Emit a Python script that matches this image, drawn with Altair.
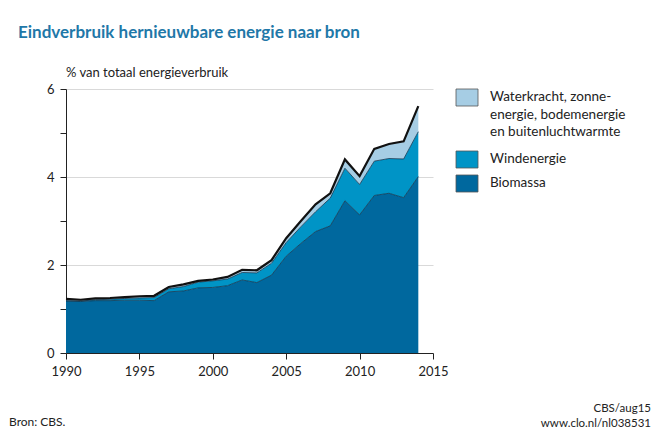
import altair as alt
import pandas as pd

years = list(range(1990, 2015))
biomassa = [1.18, 1.17, 1.19, 1.19, 1.20, 1.20, 1.19, 1.39, 1.41, 1.48, 1.49, 1.53, 1.66, 1.60,
            1.77, 2.20, 2.49, 2.76, 2.89, 3.46, 3.14, 3.58, 3.63, 3.53, 4.01]
windenergie = [0.01, 0.01, 0.02, 0.03, 0.04, 0.05, 0.07, 0.07, 0.10, 0.13, 0.15, 0.15, 0.17, 0.22,
               0.27, 0.31, 0.38, 0.45, 0.63, 0.74, 0.69, 0.78, 0.79, 0.88, 1.02]
overig = [0.04, 0.03, 0.03, 0.03, 0.03, 0.04, 0.04, 0.04, 0.05, 0.03, 0.03, 0.05, 0.06, 0.06,
          0.07, 0.10, 0.13, 0.17, 0.11, 0.20, 0.19, 0.28, 0.33, 0.40, 0.58]

legend_labels = ["Waterkracht, zonne-\nenergie, bodemenergie\nen buitenluchtwarmte", "Windenergie", "Biomassa"]
legend_colors = ["#a6cde4", "#0094c6", "#00689e"]
x_tick_values = [1990, 1995, 2000, 2005, 2010, 2015]
y_tick_values = [0, 1, 2, 3, 4, 5, 6]

FONT = "Lato"
W, H = 367, 264

df = pd.DataFrame({"jaar": years, "bio": biomassa, "wind": windenergie, "overig": overig})

base = alt.Chart(df).transform_calculate(
    b2="datum.bio + datum.wind",
    b3="datum.bio + datum.wind + datum.overig",
    zero="0",
)

xenc = alt.X("jaar:Q", scale=alt.Scale(domain=[1990, 2015], nice=False),
             axis=alt.Axis(values=x_tick_values, format="d", title=None, grid=False,
                           labelPadding=6, labelFlush=False))
yscale = alt.Scale(domain=[0, 6], nice=False)
yaxis = alt.Axis(values=y_tick_values, title=None,
                 labelExpr="datum.value % 2 == 0 ? datum.label : ''",
                 gridColor={"condition": {"test": "datum.value % 2 == 0 && datum.value > 0", "value": "#d9d9d9"},
                            "value": "transparent"},
                 labelPadding=6, labelFlush=False)

a_bio = base.mark_area(color=legend_colors[2], opacity=1).encode(
    x=xenc, y=alt.Y("bio:Q", scale=yscale, axis=yaxis), y2="zero:Q")
a_wind = base.mark_area(color=legend_colors[1], opacity=1).encode(
    x="jaar:Q", y="b2:Q", y2="bio:Q")
a_ov = base.mark_area(color=legend_colors[0], opacity=1).encode(
    x="jaar:Q", y="b3:Q", y2="b2:Q")
l_bio = base.mark_line(color="#0d3550", strokeWidth=0.8).encode(x="jaar:Q", y="bio:Q")
l_wind = base.mark_line(color="#0d3550", strokeWidth=0.8).encode(x="jaar:Q", y="b2:Q")
l_tot = base.mark_line(color="#111111", strokeWidth=2.2).encode(x="jaar:Q", y="b3:Q")

# static text
def txt(text, x, y, size=13, color="#222222", align="left", weight="normal"):
    return alt.Chart(pd.DataFrame({"t": [text]})).mark_text(
        font=FONT, fontSize=size, color=color, align=align, baseline="middle",
        fontWeight=weight).encode(text="t:N", x=alt.value(x), y=alt.value(y))

title = txt("Eindverbruik hernieuwbare energie naar bron", -48, -56, size=17,
            color="#1f78a8", weight="bold")
ytitle = txt("% van totaal energieverbruik", 0, -16, size=13)
bron = txt("Bron: CBS.", -57, 333, size=12)
cbs1 = txt("CBS/aug15", 585, 320, size=11.5, align="right")
cbs2 = txt("www.clo.nl/nl038531", 585, 335, size=11.5, align="right")

# legend
leg_y = [0, 62, 86]
leg_rects = []
for lab, col, yy in zip(legend_labels, legend_colors, leg_y):
    r = alt.Chart(pd.DataFrame({"k": [lab]})).mark_rect(
        color=col, stroke="#555555", strokeWidth=0.8).encode(
        x=alt.value(390), x2=alt.value(412), y=alt.value(yy), y2=alt.value(yy + 17))
    leg_rects.append(r)

leg_t1 = alt.Chart(pd.DataFrame({"t": [legend_labels[0].split("\n")]})).mark_text(
    font=FONT, fontSize=13.5, color="#222222", align="left", baseline="top",
    lineHeight=17.5).encode(text="t", x=alt.value(424), y=alt.value(1))
leg_t2 = txt(legend_labels[1], 424, 70, size=13.5)
leg_t3 = txt(legend_labels[2], 424, 94, size=13.5)

chart = alt.layer(
    a_bio, a_wind, a_ov, l_bio, l_wind, l_tot,
    title, ytitle, bron, cbs1, cbs2, *leg_rects, leg_t1, leg_t2, leg_t3
).properties(
    width=W, height=H,
    autosize=alt.AutoSizeParams(type="none"),
    padding={"left": 58, "top": 81, "right": 219, "bottom": 78},
).configure_view(stroke=None).configure_axis(
    domainColor="#222222", tickColor="#222222", tickSize=6, domainWidth=1, tickWidth=1,
    labelFont=FONT, labelFontSize=13, labelColor="#222222",
)

chart.save("out.html", embed_options={"renderer": "svg", "actions": False})
